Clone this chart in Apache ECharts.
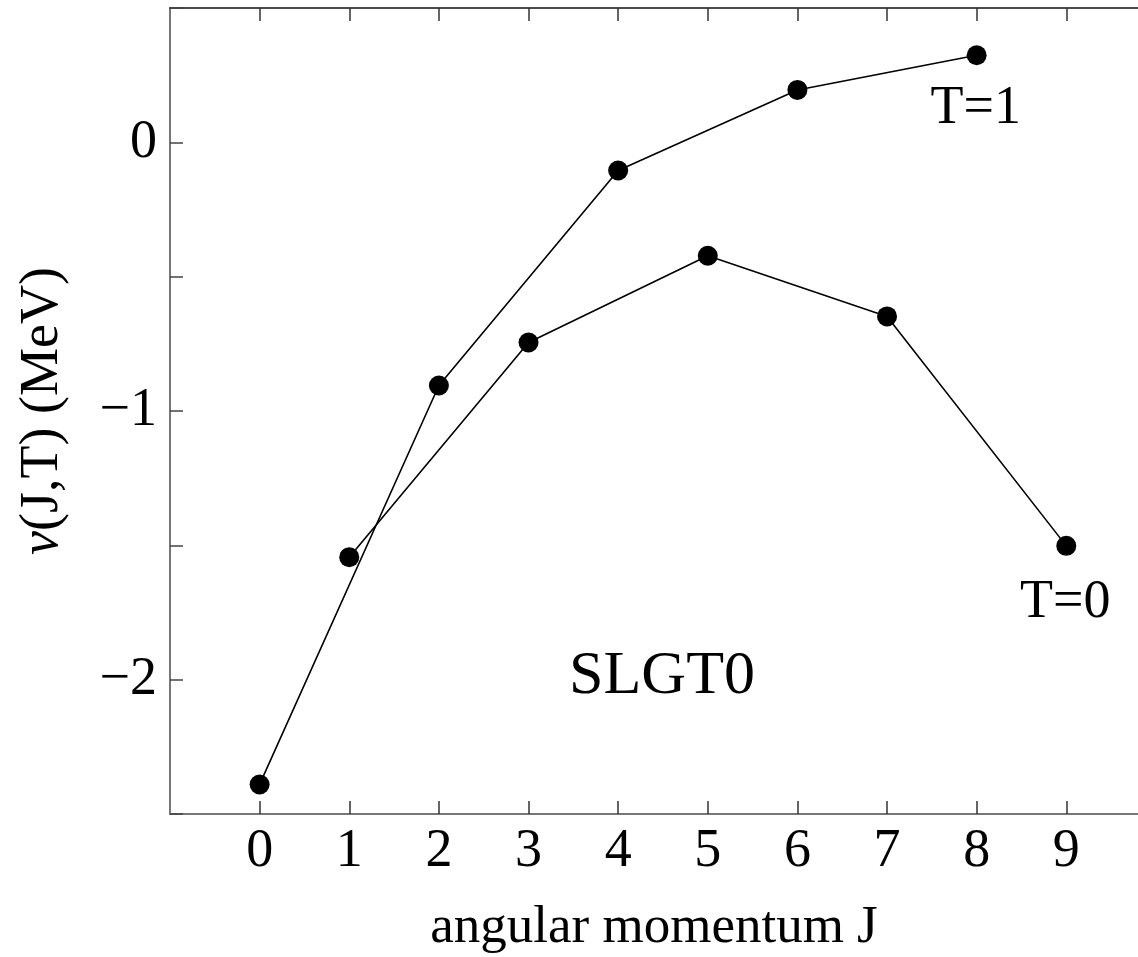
<!DOCTYPE html>
<html>
<head>
<meta charset="utf-8">
<title>SLGT0</title>
<script src="https://cdn.jsdelivr.net/npm/echarts@6/dist/echarts.min.js"></script>
<style>
  html, body { margin: 0; padding: 0; background: #fff; }
  #chart { width: 1138px; height: 957px; }
</style>
</head>
<body>
<div id="chart"></div>
<script>
// T=1 : even J, T=0 : odd J
var jT1 = [0, 2, 4, 6, 8];
var vT1 = [-2.39, -0.905, -0.105, 0.195, 0.324];
var jT0 = [1, 3, 5, 7, 9];
var vT0 = [-1.544, -0.745, -0.422, -0.648, -1.502];
var jTicks = [0, 1, 2, 3, 4, 5, 6, 7, 8, 9];
var seriesNames = ['T=1', 'T=0'];
var plotLabel = 'SLGT0';

var font = 'Liberation Serif';

function pairs(xs, ys, name, offset) {
    var out = [];
    for (var i = 0; i < xs.length; i++) {
        var item = { value: [xs[i], ys[i]] };
        if (i == xs.length - 1) {
            item.label = {
                show: true, formatter: name, position: 'inside', offset: offset,
                color: '#000', fontFamily: font, fontSize: 54
            };
        }
        out.push(item);
    }
    return out;
}

function minus(v) {
    return v < 0 ? '\u2212' + Math.abs(v) : '' + v;
}

var lineStyle = { color: '#000', width: 1.6 };

var option = {
    animation: false,
    backgroundColor: '#fff',
    grid: { left: 170, right: 0, top: 8, bottom: 143, containLabel: false, outerBoundsMode: 'none' },
    xAxis: [{
        type: 'value', min: -1, max: 9.8, interval: 1,
        name: 'angular momentum J', nameLocation: 'middle', nameGap: 88,
        nameTextStyle: { fontFamily: font, fontSize: 53, color: '#000' },
        axisLine: { show: true, onZero: false, lineStyle: { color: '#777', width: 2 } },
        axisTick: { show: true, inside: true, length: 13, customValues: jTicks, lineStyle: { color: '#333', width: 1.5 } },
        axisLabel: {
            margin: 11, fontFamily: font, fontSize: 54, color: '#000',
            customValues: jTicks,
            formatter: function (v) { return '' + v; }
        },
        splitLine: { show: false }
    }, {
        type: 'value', min: -1, max: 9.8, interval: 1, position: 'top',
        axisLine: { show: true, onZero: false, lineStyle: { color: '#111', width: 1.5 } },
        axisTick: { show: true, inside: true, length: 13, customValues: jTicks, lineStyle: { color: '#333', width: 1.5 } },
        axisLabel: { show: false },
        splitLine: { show: false }
    }],
    yAxis: [{
        type: 'value', min: -2.5, max: 0.5, interval: 0.5,
        name: '{i|v}(J,T) (MeV)', nameLocation: 'middle', nameGap: 100, nameRotate: 90,
        nameTextStyle: {
            fontFamily: font, fontSize: 54, color: '#000',
            rich: { i: { fontFamily: font, fontSize: 54, fontStyle: 'italic', color: '#000' } }
        },
        axisLine: { show: true, onZero: false, lineStyle: { color: '#777', width: 2 } },
        axisTick: { show: true, inside: true, length: 13, lineStyle: { color: '#444', width: 1.5 } },
        axisLabel: {
            margin: 13, fontFamily: font, fontSize: 54, color: '#000',
            formatter: function (v) { return Number.isInteger(v) ? minus(v) : ''; }
        },
        splitLine: { show: false }
    }],
    graphic: [{
        type: 'text', x: 662, y: 677,
        style: {
            text: plotLabel, fill: '#000', font: '62px "' + font + '"',
            textAlign: 'center', textVerticalAlign: 'middle'
        }
    }],
    series: [{
        name: seriesNames[0], type: 'line',
        data: pairs(jT1, vT1, seriesNames[0], [-1, 54]),
        symbol: 'circle', symbolSize: 20,
        itemStyle: { color: '#000' }, lineStyle: lineStyle
    }, {
        name: seriesNames[1], type: 'line',
        data: pairs(jT0, vT0, seriesNames[1], [-1, 57]),
        symbol: 'circle', symbolSize: 20,
        itemStyle: { color: '#000' }, lineStyle: lineStyle
    }]
};

var chart = echarts.init(document.getElementById('chart'));
chart.setOption(option);
</script>
</body>
</html>
